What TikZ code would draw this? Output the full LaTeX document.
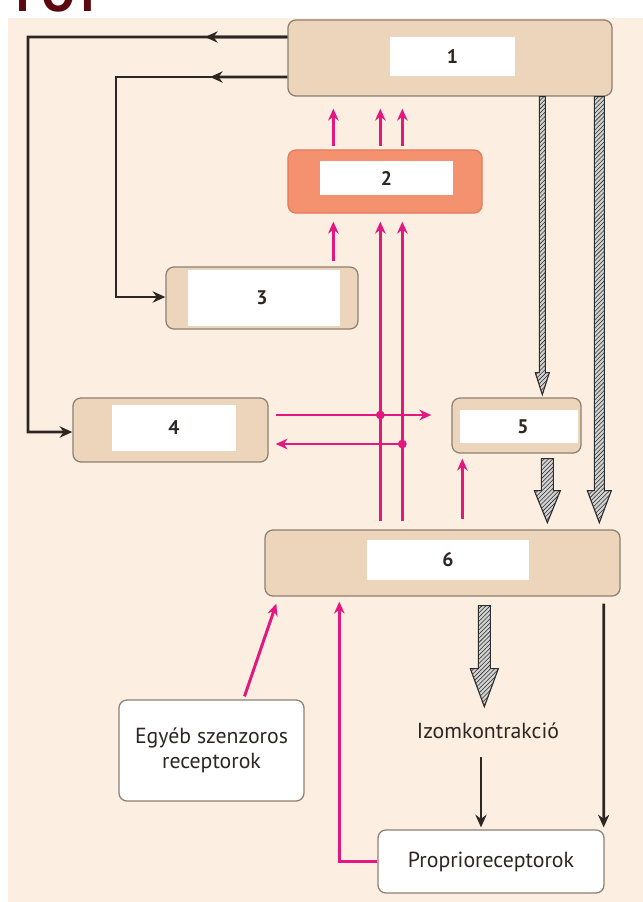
\documentclass[tikz,border=0pt]{standalone}
\usepackage{fontspec}
\setmainfont{PT Sans}
\usepackage{xcolor}
\usepackage{tikz}
\usetikzlibrary{arrows.meta, positioning, calc, patterns}
\definecolor{paper}{RGB}{252,239,225}
\definecolor{tanfill}{RGB}{236,213,186}
\definecolor{tanedge}{RGB}{140,128,114}
\definecolor{salmon}{RGB}{244,146,112}
\definecolor{salmonedge}{RGB}{226,122,92}
\definecolor{magline}{RGB}{226,24,128}
\definecolor{darkline}{RGB}{46,38,34}
\definecolor{headred}{RGB}{90,10,14}
% hatched arrow: start, half shaft, shaft length, half head, head length (px)
\newcommand{\hatcharrow}[5]{%
  \draw[hatchfill] (#1) ++(-#2,0) -- ++({2*#2},0) -- ++(0,#3) -- ++({#4-#2},0)
    -- ++(-#4,#5) -- ++(-#4,-#5) -- ++({#4-#2},0) -- cycle;}

\begin{document}
\begin{tikzpicture}[x=0.025cm, y=-0.025cm,
  tanbox/.style={draw=tanedge, fill=tanfill, line width=0.9pt, rounded corners=0.2cm, inner sep=0pt},
  salmonbox/.style={draw=salmonedge, fill=salmon, line width=0.9pt, rounded corners=0.2cm, inner sep=0pt},
  labelbox/.style={fill=white, inner sep=0pt, font=\fontsize{14}{16}\selectfont\bfseries, text=darkline},
  textbox/.style={draw=tanedge, fill=white, line width=0.9pt, rounded corners=0.2cm, align=center,
    font=\fontsize{15.5}{17.5}\selectfont, text=darkline},
  darkarrow/.style={draw=darkline, line width=2pt, -{Stealth[length=9pt,width=8pt]}},
  pinkarrow/.style={draw=magline, line width=2.1pt, -{Stealth[length=8.5pt,width=7.5pt]}},
  junction/.style={circle, fill=magline, inner sep=0pt, minimum size=0.22cm},
  hatchfill/.style={draw=gray!35!black, line width=0.8pt, preaction={fill=gray!35},
    pattern=north east lines, pattern color=gray!35!black}]
  \useasboundingbox (0,0) rectangle (643,902);
  \clip (0,0) rectangle (643,902);
  % Background
  \fill[white] (0,0) rectangle (643,902);
  \fill[paper] (8,18) rectangle (643,902);
  \node[anchor=base west, inner sep=0pt, text=headred, font=\fontsize{36}{36}\selectfont\bfseries] (head) at (16,11) {FOT};
  % Boxes
  \node[tanbox, minimum width=8.1cm, minimum height=1.9cm] (b1) at (450,58) {};
  \node[labelbox, minimum width=3.125cm, minimum height=0.975cm] (l1) at (452.5,56.5) {1};
  \node[salmonbox, minimum width=4.85cm, minimum height=1.575cm] (b2) at (385,181.5) {};
  \node[labelbox, minimum width=3.325cm, minimum height=0.85cm] (l2) at (386.5,178) {2};
  \node[tanbox, minimum width=4.8cm, minimum height=1.55cm] (b3) at (262,298) {};
  \node[labelbox, minimum width=3.8cm, minimum height=1.4cm] (l3) at (264,298) {\hspace{-0.1cm}3};
  \node[tanbox, minimum width=4.875cm, minimum height=1.6cm] (b4) at (170.5,430) {};
  \node[labelbox, minimum width=3.1cm, minimum height=1.15cm] (l4) at (174,428) {4};
  \node[tanbox, minimum width=3.225cm, minimum height=1.375cm] (b5) at (516.5,425.5) {};
  \node[labelbox, minimum width=2.95cm, minimum height=0.825cm] (l5) at (519,426.5) {\hspace{0.2cm}5};
  \node[tanbox, minimum width=8.875cm, minimum height=1.65cm] (b6) at (442.5,563) {};
  \node[labelbox, minimum width=4.05cm, minimum height=1.0cm] (l6) at (448,560) {6};
  \node[textbox, minimum width=4.625cm, minimum height=2.525cm] (eg) at (211.5,750.5) {Egyéb szenzoros\\receptorok};
  \node[textbox, minimum width=5.65cm, minimum height=1.575cm] (pr) at (491,861.5) {Proprioreceptorok};
  \node[inner sep=0pt, text=darkline, font=\fontsize{15.5}{17.5}\selectfont] (iz) at (488,731) {Izomkontrakció};
  % Black feedback lines
  \draw[darkarrow] ([yshift=0.525cm]b1.west) -| (28,432) -- ([yshift=-0.05cm]b4.west);
  \draw[darkarrow] ([yshift=0.525cm]b1.west) -- (205,37);
  \draw[darkarrow] ([yshift=-0.475cm]b1.west) -| (116,297) -- ([yshift=0.025cm]b3.west);
  \draw[darkarrow] ([yshift=-0.475cm]b1.west) -- (210,77);
  \draw[darkarrow] ($(b6.south east)+(-17,7)$) -- ($(pr.north east)+(-1,-2)$);
  \draw[darkarrow] ($(iz.south)+(-7,18)$) -- ($(iz.south |- pr.north)+(-7,-2)$);
  % Pink paths
  \coordinate (va) at ($(b2.north west)+(46,0)$);
  \coordinate (vb) at ($(b2.north west)+(93,0)$);
  \coordinate (vc) at ($(b2.north west)+(115,0)$);
  \foreach \v in {va,vb,vc}
    \draw[pinkarrow, shorten <=0.075cm, shorten >=0.3cm] (\v |- b2.north) -- (\v |- b1.south);
  \draw[pinkarrow, shorten <=0.125cm, shorten >=0.2cm] (va |- b3.north) -- (va |- b2.south);
  \foreach \v in {vb,vc}
    \draw[pinkarrow, shorten <=0.2cm, shorten >=0.2cm] (\v |- b6.north) -- (\v |- b2.south);
  \coordinate (h1) at ([yshift=0.375cm]b4.east);
  \coordinate (h2) at ([yshift=-0.35cm]b4.east);
  \draw[pinkarrow, shorten <=0.175cm, shorten >=0.5cm] (h1) -- (h1 -| b5.west);
  \draw[pinkarrow, shorten >=0.175cm] (h2 -| vc) -- (h2);
  \node[junction] (j1) at (h1 -| vb) {};
  \node[junction] (j2) at (h2 -| vc) {};
  \coordinate (v5) at ($(b5.south west)+(11,0)$);
  \draw[pinkarrow, shorten <=0.25cm, shorten >=0.125cm] (v5 |- b6.north) -- (v5);
  \draw[pinkarrow] ($(eg.north)+(33,-3)$) -- ($(b6.south west)+(12,7)$);
  \draw[pinkarrow] (pr.west) -| ($(b6.south west)+(75,5)$);
  % Hatched arrows
  \hatcharrow{$(b1.south west)+(255,0)$}{3}{276}{7}{22}
  \hatcharrow{$(b1.south west)+(312,0)$}{5}{394}{12}{32}
  \hatcharrow{$(b5.south west)+(96,5)$}{6}{32}{13}{32}
  \hatcharrow{$(b6.south west)+(220,9)$}{6}{63}{14}{38}
\end{tikzpicture}
\end{document}
